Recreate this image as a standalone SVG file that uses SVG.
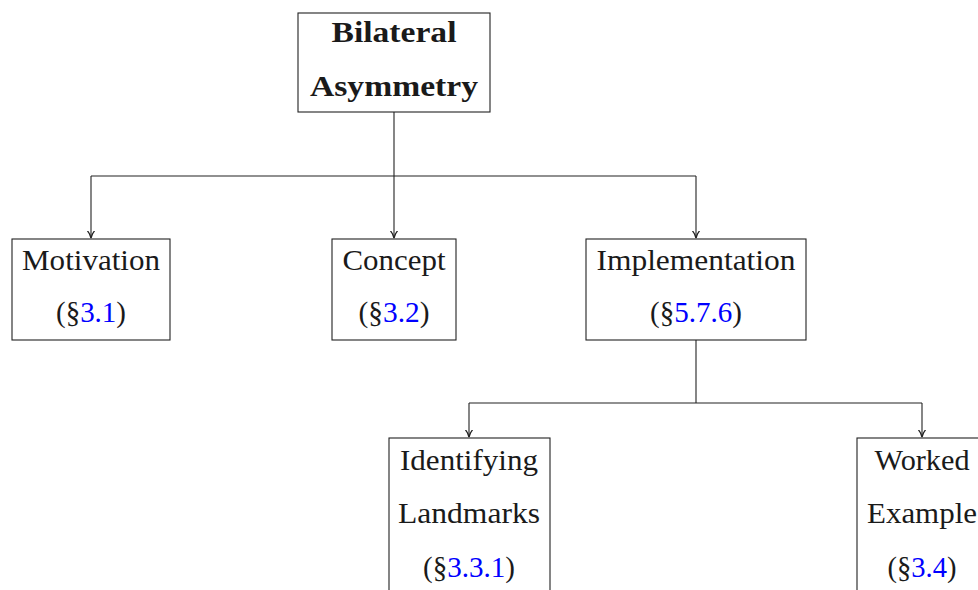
<svg xmlns="http://www.w3.org/2000/svg" width="978" height="590" viewBox="0 0 978 590">
  <defs>
    <marker id="arrow" viewBox="0 0 10 10" refX="9" refY="5" markerWidth="8" markerHeight="8" markerUnits="userSpaceOnUse" orient="auto">
      <path d="M0,0.5 Q4,4 9,5 Q4,6 0,9.5" fill="none" stroke="#222" stroke-width="1.6"/>
    </marker>
    <style>
      .box { fill: #fff; stroke: #222; stroke-width: 1.1; }
      .lbl { font-family: "Liberation Serif", "DejaVu Serif", serif; font-size: 29px; fill: #1a1a1a; text-anchor: middle; }
      .bold { font-weight: bold; }
      .ref { fill: #0000ff; }
      .edge { fill: none; stroke: #222; stroke-width: 1.1; }
    </style>
  </defs>
  <rect width="978" height="590" fill="#fff"/>

  <g id="connectors">
    <path class="edge" d="M394,112 V176"/>
    <path class="edge" d="M91,176 H696"/>
    <path class="edge" d="M91,176 V238" marker-end="url(#arrow)"/>
    <path class="edge" d="M394,176 V238" marker-end="url(#arrow)"/>
    <path class="edge" d="M696,176 V238" marker-end="url(#arrow)"/>
    <path class="edge" d="M696,340 V403"/>
    <path class="edge" d="M469,403 H922"/>
    <path class="edge" d="M469,403 V437" marker-end="url(#arrow)"/>
    <path class="edge" d="M922,403 V437" marker-end="url(#arrow)"/>
  </g>

  <g id="root">
    <rect class="box" x="298" y="13" width="192" height="99"/>
    <text class="lbl bold" x="394" y="42" textLength="125" lengthAdjust="spacingAndGlyphs">Bilateral</text>
    <text class="lbl bold" x="394" y="96" textLength="168" lengthAdjust="spacingAndGlyphs">Asymmetry</text>
  </g>

  <g id="motivation">
    <rect class="box" x="12" y="239" width="158" height="101"/>
    <text class="lbl" x="91" y="270" textLength="138" lengthAdjust="spacingAndGlyphs">Motivation</text>
    <text class="lbl" x="91" y="322" textLength="70" lengthAdjust="spacingAndGlyphs">(§<tspan class="ref">3.1</tspan>)</text>
  </g>

  <g id="concept">
    <rect class="box" x="332" y="239" width="124" height="101"/>
    <text class="lbl" x="394" y="270" textLength="103" lengthAdjust="spacingAndGlyphs">Concept</text>
    <text class="lbl" x="394" y="322" textLength="71" lengthAdjust="spacingAndGlyphs">(§<tspan class="ref">3.2</tspan>)</text>
  </g>

  <g id="implementation">
    <rect class="box" x="586" y="239" width="220" height="101"/>
    <text class="lbl" x="696" y="270" textLength="199" lengthAdjust="spacingAndGlyphs">Implementation</text>
    <text class="lbl" x="696" y="322" textLength="92" lengthAdjust="spacingAndGlyphs">(§<tspan class="ref">5.7.6</tspan>)</text>
  </g>

  <g id="landmarks">
    <rect class="box" x="389" y="438" width="161" height="170"/>
    <text class="lbl" x="469" y="470" textLength="138" lengthAdjust="spacingAndGlyphs">Identifying</text>
    <text class="lbl" x="469" y="523" textLength="142" lengthAdjust="spacingAndGlyphs">Landmarks</text>
    <text class="lbl" x="469" y="577" textLength="92" lengthAdjust="spacingAndGlyphs">(§<tspan class="ref">3.3.1</tspan>)</text>
  </g>

  <g id="worked-example">
    <rect class="box" x="857" y="438" width="150" height="170"/>
    <text class="lbl" x="922" y="470" textLength="95" lengthAdjust="spacingAndGlyphs">Worked</text>
    <text class="lbl" x="922" y="523" textLength="110" lengthAdjust="spacingAndGlyphs">Example</text>
    <text class="lbl" x="922" y="577" textLength="69" lengthAdjust="spacingAndGlyphs">(§<tspan class="ref">3.4</tspan>)</text>
  </g>
</svg>
